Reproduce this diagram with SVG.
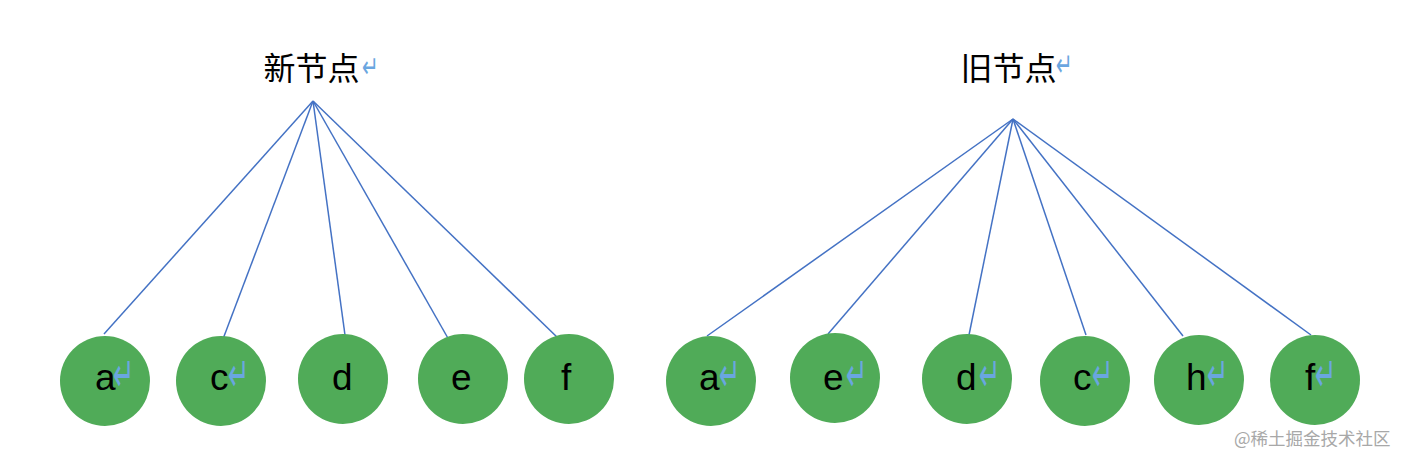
<svg xmlns="http://www.w3.org/2000/svg" width="1410" height="470" viewBox="0 0 1410 470">
<style>
.node{fill:#50AB58;}
.lbl{font-family:"Liberation Sans",Arial,sans-serif;font-size:37px;fill:#000;}
.pm{font-family:"DejaVu Sans",sans-serif;font-size:32px;fill:#6AA6E0;}
.tpm{font-family:"DejaVu Sans",sans-serif;font-size:25px;fill:#6AA6E0;}
.title{font-family:"Noto Sans CJK SC","Noto Sans CJK JP",sans-serif;font-size:32px;fill:#000;}
.edge{stroke:#4472C4;stroke-width:1.5;fill:none;}
.wm{font-family:"Noto Sans CJK SC",sans-serif;font-size:17.5px;fill:#A8A8A8;}
</style>
<rect width="1410" height="470" fill="#fff"/>
<g id="connectors">
<line class="edge" x1="313" y1="101" x2="104" y2="334"/>
<line class="edge" x1="313" y1="101" x2="223" y2="339"/>
<line class="edge" x1="313" y1="101" x2="345" y2="335"/>
<line class="edge" x1="313" y1="101" x2="449" y2="340"/>
<line class="edge" x1="313" y1="101" x2="559" y2="339"/>
<line class="edge" x1="1013" y1="119" x2="707" y2="336"/>
<line class="edge" x1="1013" y1="119" x2="828" y2="334"/>
<line class="edge" x1="1013" y1="119" x2="969" y2="335"/>
<line class="edge" x1="1013" y1="119" x2="1086" y2="335"/>
<line class="edge" x1="1013" y1="119" x2="1183" y2="336"/>
<line class="edge" x1="1013" y1="119" x2="1311" y2="335"/>
</g>
<g id="title-new"><text class="title" x="263.5" y="80">新节点</text><text class="tpm" transform="translate(362,77) scale(0.8,1.2)">↵</text></g>
<g id="title-old"><text class="title" x="960.5" y="80">旧节点</text><text class="tpm" transform="translate(1056,76) scale(0.8,1.3)">↵</text></g>
<g id="new-a"><circle class="node" cx="105" cy="381" r="45"/><text class="lbl" x="95" y="390">a</text><text class="pm" transform="translate(113,391) scale(0.8,1.5)">↵</text></g>
<g id="new-c"><circle class="node" cx="221" cy="381" r="45"/><text class="lbl" x="210" y="390">c</text><text class="pm" transform="translate(228,391) scale(0.8,1.5)">↵</text></g>
<g id="new-d"><circle class="node" cx="343" cy="379" r="45"/><text class="lbl" x="332" y="390">d</text></g>
<g id="new-e"><circle class="node" cx="463" cy="379" r="45"/><text class="lbl" x="451" y="390">e</text></g>
<g id="new-f"><circle class="node" cx="569" cy="379" r="45"/><text class="lbl" x="561" y="390">f</text></g>
<g id="old-a"><circle class="node" cx="711" cy="381" r="45"/><text class="lbl" x="699" y="390">a</text><text class="pm" transform="translate(719,391) scale(0.8,1.5)">↵</text></g>
<g id="old-e"><circle class="node" cx="835" cy="378" r="45"/><text class="lbl" x="823" y="390">e</text><text class="pm" transform="translate(846,391) scale(0.8,1.5)">↵</text></g>
<g id="old-d"><circle class="node" cx="967" cy="379" r="45"/><text class="lbl" x="956" y="390">d</text><text class="pm" transform="translate(979,391) scale(0.8,1.5)">↵</text></g>
<g id="old-c"><circle class="node" cx="1085" cy="381" r="45"/><text class="lbl" x="1073" y="390">c</text><text class="pm" transform="translate(1092,391) scale(0.8,1.5)">↵</text></g>
<g id="old-h"><circle class="node" cx="1199" cy="380" r="45"/><text class="lbl" x="1186" y="390">h</text><text class="pm" transform="translate(1207,391) scale(0.8,1.5)">↵</text></g>
<g id="old-f"><circle class="node" cx="1315" cy="380" r="45"/><text class="lbl" x="1305" y="390">f</text><text class="pm" transform="translate(1315,391) scale(0.8,1.5)">↵</text></g>
<text class="wm" x="1234" y="445">@稀土掘金技术社区</text>
</svg>
